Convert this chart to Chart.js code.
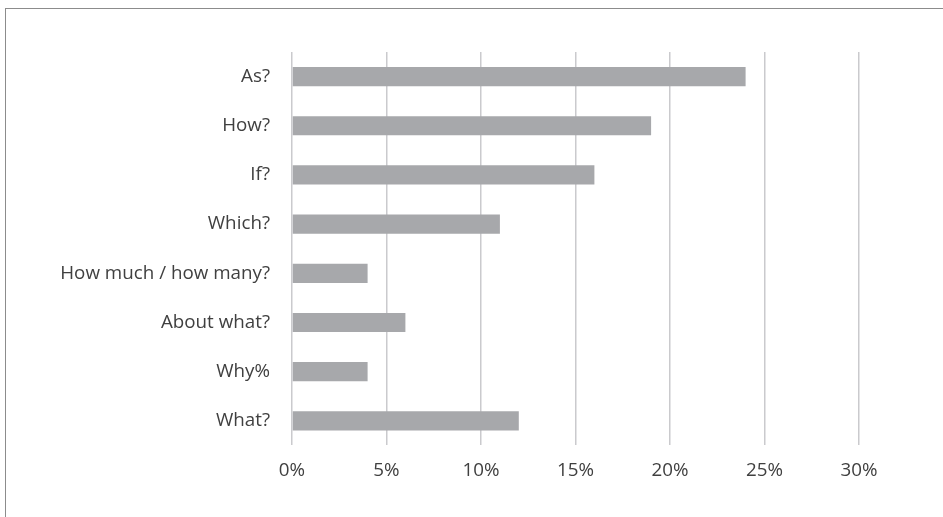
<!DOCTYPE html>
<html>
<head>
<meta charset="utf-8">
<script src="https://cdn.jsdelivr.net/npm/chart.js@4"></script>
<style>
html, body { margin: 0; padding: 0; background: #fff; overflow: hidden; }
#wrap { position: relative; width: 943px; height: 517px; }
#frame {
  position: absolute; left: 5px; top: 8px; width: 960px; height: 540px;
  border-top: 1.5px solid #8c8c8c; border-left: 1.5px solid #8c8c8c;
}
#chart { position: absolute; left: 0; top: 0; }
</style>
</head>
<body>
<div id="wrap">
<div id="frame"></div>
<canvas id="chart" width="943" height="517"></canvas>
</div>
<script>
// question types and share of answers (%)
const questions = ["As?", "How?", "If?", "Which?", "How much / how many?", "About what?", "Why%", "What?"]
const shares = [24, 19, 16, 11, 4, 6, 4, 12]
const xTicks = [0, 5, 10, 15, 20, 25, 30]

const font = { family: "'Open Sans', sans-serif", size: 18.8 }

let ctx = document.getElementById("chart").getContext("2d")

new Chart(ctx, {
type: "bar",
data: {
labels: questions,
datasets: [{
data: shares,
backgroundColor: "#a7a8ab",
borderWidth: 0,
categoryPercentage: 1,
barPercentage: 0.39
}]
},
options: {
indexAxis: "y",
responsive: false,
animation: false,
layout: { padding: { top: 52, right: 84, bottom: 21, left: 0 } },
plugins: { legend: { display: false }, tooltip: { enabled: false } },
scales: {
x: {
min: 0,
max: 30,
afterBuildTicks: s => { s.ticks = xTicks.map(v => ({ value: v })) },
grid: { color: "#cacacd", lineWidth: 1.5, drawTicks: false },
border: { display: false },
ticks: {
color: "#404040",
font: font,
padding: 14,
callback: v => v + "%"
}
},
y: {
afterFit: s => { s.width = 292 },
grid: { display: false, drawTicks: false },
border: { display: false },
ticks: { color: "#404040", font: font, padding: 22 }
}
}
}
})
</script>
</body>
</html>
